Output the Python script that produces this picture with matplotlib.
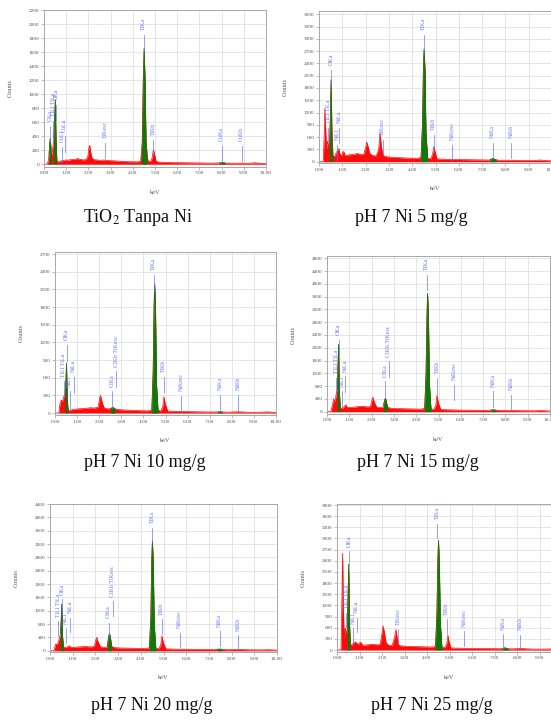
import matplotlib
matplotlib.use('Agg')
import matplotlib.pyplot as plt
from matplotlib.ticker import FixedLocator, FuncFormatter

# ---------------- DATA ----------------
captions = ["TiO$_2$ Tanpa Ni", "pH 7 Ni 5 mg/g", "pH 7 Ni 10 mg/g",
            "pH 7 Ni 15 mg/g", "pH 7 Ni 20 mg/g", "pH 7 Ni 25 mg/g"]
x_ticks = [0, 1, 2, 3, 4, 5, 6, 7, 8, 9, 10]
y_ticks_1 = list(range(0, 2201, 200))
y_ticks_2 = list(range(0, 3601, 300))
y_ticks_3 = list(range(0, 2701, 300))
y_ticks_4 = list(range(0, 4801, 400))
y_ticks_5 = list(range(0, 4401, 400))
y_ticks_6 = list(range(0, 3901, 300))

# Panel 1 : TiO2 tanpa Ni
p1_kev = [0.05,0.15,0.20,0.24,0.28,0.32,0.36,0.40,0.42,0.45,0.48,0.51,0.54,0.58,0.62,0.70,0.80,0.90,1.00,1.10,
          1.20,1.30,1.40,1.50,1.60,1.70,1.80,1.90,1.98,2.02,2.06,2.10,2.16,2.25,2.40,2.55,2.70,2.85,3.00,3.20,
          3.40,3.60,3.80,4.00,4.20,4.35,4.42,4.47,4.51,4.55,4.60,4.68,4.80,4.87,4.93,4.98,5.05,5.20,5.50,6.00,
          6.50,7.00,7.50,7.90,8.04,8.20,8.60,8.90,9.20,9.50,9.80,10.0]
p1_cnt = [0,5,60,200,370,120,150,250,280,420,650,920,350,60,30,40,50,55,60,58,
          65,70,68,80,72,66,60,70,120,230,270,180,90,65,60,55,60,55,50,48,
          42,40,36,35,34,40,300,1200,1650,1200,300,45,40,90,210,140,40,30,25,22,
          20,18,15,18,22,16,14,16,13,20,12,10]
p1_green = [([0.23,0.26,0.28,0.30,0.33], [150,300,370,300,110]),
            ([0.44,0.47,0.51,0.54,0.57], [380,600,920,350,100]),
            ([4.40,4.44,4.47,4.51,4.55,4.59,4.64], [50,400,1200,1650,1200,300,40]),
            ([7.90,7.98,8.04,8.10,8.16], [15,20,22,20,15])]
p1_labels = [("CKa",0.27,330),("TiLl TiLa",0.41,400),("OKa",0.53,630),("CuLl",0.81,30),
             ("CuLa",0.93,180),("TiKesc",2.76,85),("TiKa",4.49,1630),("TiKb",4.92,125),
             ("CuKa",8.00,40),("CuKb",8.90,40)]

# Panel 2 : 5 mg/g
p2_kev = [0.05,0.18,0.22,0.25,0.28,0.32,0.36,0.40,0.44,0.48,0.52,0.56,0.60,0.66,0.72,0.80,0.85,0.90,0.96,1.02,
          1.06,1.12,1.20,1.35,1.50,1.65,1.80,1.92,2.00,2.05,2.10,2.18,2.30,2.45,2.56,2.62,2.68,2.76,2.90,3.10,
          3.40,3.70,4.00,4.25,4.38,4.44,4.48,4.51,4.55,4.59,4.66,4.80,4.88,4.93,4.98,5.06,5.30,5.70,6.20,6.80,
          7.30,7.40,7.47,7.55,7.70,8.20,8.70,9.20,9.50,9.80,10.0]
p2_cnt = [0,10,600,1300,900,300,500,420,300,1000,2000,600,150,120,200,280,320,180,150,230,
          250,150,160,170,180,200,170,180,350,480,380,200,150,140,300,700,350,150,120,110,
          100,90,85,80,120,900,2300,2750,2200,700,90,70,200,370,250,70,60,55,50,45,
          40,60,80,55,35,35,30,28,40,25,20]
p2_green = [([0.46,0.49,0.52,0.55,0.58], [200,1200,2000,600,100]),
            ([4.38,4.44,4.48,4.51,4.55,4.59,4.66], [120,900,2300,2750,2200,700,90]),
            ([7.35,7.42,7.47,7.52,7.60], [45,70,80,65,40])]
p2_labels = [("TiLl TiLa",0.40,460),("OKa",0.53,1880),("NiLl",0.77,50),("NiLa",0.87,460),
             ("TiKesc",2.74,170),("TiKa",4.50,2735),("TiKb",4.93,290),("NiKesc",5.71,50),
             ("NiKa",7.45,90),("NiKb",8.26,90)]

# Panel 3 : 10 mg/g
p3_kev = [0.05,0.18,0.22,0.28,0.34,0.40,0.45,0.49,0.52,0.55,0.60,0.70,0.80,0.90,1.00,1.20,1.40,1.60,1.80,1.95,
          2.02,2.06,2.12,2.22,2.40,2.55,2.62,2.70,2.85,3.00,3.30,3.60,3.90,4.20,4.38,4.44,4.48,4.51,4.55,4.59,
          4.66,4.80,4.88,4.93,4.99,5.10,5.40,6.00,6.60,7.20,7.40,7.47,7.55,7.80,8.30,8.80,9.30,9.60,10.0]
p3_cnt = [0,5,150,220,200,280,350,500,850,250,40,50,60,65,70,75,80,90,85,100,
          250,300,200,90,70,80,100,75,60,55,50,45,40,38,50,700,1800,2200,1700,500,
          50,35,120,280,150,35,30,25,20,18,20,22,18,15,22,12,14,20,10]
p3_green = [([0.46,0.49,0.52,0.55,0.58], [300,550,850,250,40]),
            ([2.52,2.57,2.62,2.67,2.72], [70,90,100,85,60]),
            ([4.38,4.44,4.48,4.51,4.55,4.59,4.66], [50,700,1800,2200,1700,500,45]),
            ([7.37,7.42,7.47,7.52,7.58], [15,20,22,20,15])]
p3_labels = [("TiLl TiLa",0.40,264),("OKa",0.53,884),("NiLl",0.66,94),("NiLa",0.84,344),
             ("ClKa",2.60,94),("ClKb TiKesc",2.78,434),("TiKa",4.47,2074),("TiKb",4.91,344),
             ("NiKesc",5.72,20),("NiKa",7.48,34),("NiKb",8.28,34)]

# Panel 4 : 15 mg/g
p4_kev = [0.05,0.18,0.24,0.30,0.36,0.42,0.46,0.49,0.52,0.55,0.60,0.68,0.80,0.85,0.90,1.00,1.20,1.40,1.60,1.80,
          1.95,2.02,2.06,2.12,2.22,2.40,2.52,2.58,2.62,2.66,2.72,2.85,3.00,3.30,3.60,3.90,4.20,4.38,4.44,4.48,
          4.51,4.55,4.59,4.66,4.80,4.88,4.93,4.99,5.10,5.40,6.00,6.60,7.20,7.38,7.47,7.56,7.80,8.30,8.80,9.30,
          9.60,10.0]
p4_cnt = [0,10,200,400,300,600,700,1400,2100,700,120,100,180,220,140,130,140,160,170,150,
          160,380,450,300,150,130,150,350,420,320,140,110,100,95,90,85,80,100,1200,3000,
          3700,2900,900,90,70,200,520,280,70,60,50,45,40,55,60,50,35,35,30,28,
          35,20]
p4_green = [([0.46,0.49,0.52,0.55,0.58], [700,1400,2100,700,150]),
            ([2.54,2.58,2.62,2.66,2.70], [200,350,420,320,150]),
            ([4.38,4.44,4.48,4.51,4.55,4.59,4.66], [100,1200,3000,3700,2900,900,90]),
            ([7.37,7.42,7.47,7.52,7.58], [45,55,60,55,40])]
p4_labels = [("TiLl TiLa",0.42,567),("OKa",0.52,1767),("NiLl",0.67,147),("NiLa",0.82,617),
             ("ClKa",2.62,467),("ClKb TiKesc",2.77,1087),("TiKa",4.48,3800),("TiKb",4.93,567),
             ("NiKesc",5.71,357),("NiKa",7.46,150),("NiKb",8.27,45)]

# Panel 5 : 20 mg/g
p5_kev = [0.05,0.18,0.24,0.30,0.36,0.42,0.46,0.49,0.52,0.55,0.60,0.68,0.80,0.85,0.90,1.00,1.20,1.40,1.60,1.80,
          1.95,2.02,2.06,2.12,2.22,2.40,2.52,2.58,2.62,2.66,2.72,2.85,3.00,3.30,3.60,3.90,4.20,4.38,4.44,4.48,
          4.51,4.55,4.59,4.66,4.80,4.88,4.93,4.99,5.10,5.40,6.00,6.60,7.20,7.38,7.47,7.56,7.80,8.30,8.80,9.30,
          9.60,10.0]
p5_cnt = [0,10,200,180,250,400,500,900,1400,450,110,90,130,150,110,100,110,120,125,115,
          130,330,400,260,120,100,120,420,520,400,130,95,85,80,75,70,65,90,1000,2700,
          3300,2600,800,80,60,180,450,250,60,50,45,40,35,45,50,45,30,40,28,25,
          30,20]
p5_green = [([0.46,0.49,0.52,0.55,0.58], [500,900,1400,450,110]),
            ([2.54,2.58,2.62,2.66,2.70], [150,420,520,400,140]),
            ([4.38,4.44,4.48,4.51,4.55,4.59,4.66], [90,1000,2700,3300,2600,800,80]),
            ([7.37,7.42,7.47,7.52,7.58], [40,45,50,45,35])]
p5_labels = [("TiLl TiLa",0.37,448),("OKa",0.52,1098),("NiLl",0.69,228),("NiLa",0.88,548),
             ("ClKa",2.58,398),("ClKb TiKesc",2.77,1048),("TiKa",4.50,3250),("TiKb",4.93,498),
             ("NiKesc",5.72,98),("NiKa",7.48,148),("NiKb",8.29,30)]

# Panel 6 : 25 mg/g
p6_kev = [0.05,0.18,0.22,0.25,0.28,0.32,0.36,0.40,0.44,0.48,0.52,0.56,0.60,0.66,0.72,0.80,0.85,0.90,0.96,1.02,
          1.06,1.12,1.20,1.35,1.50,1.65,1.80,1.92,2.00,2.05,2.10,2.18,2.30,2.45,2.56,2.62,2.68,2.76,2.90,3.10,
          3.40,3.70,4.00,4.25,4.38,4.44,4.48,4.51,4.55,4.59,4.66,4.80,4.88,4.93,4.98,5.06,5.30,5.70,6.20,6.80,
          7.30,7.40,7.47,7.55,7.70,8.20,8.70,9.20,9.50,9.80,10.0]
p6_cnt = [0,10,1500,2600,1200,300,600,500,400,1200,2300,700,150,130,180,220,200,170,160,200,
          210,140,130,140,150,150,140,150,450,650,500,200,130,120,350,550,300,120,110,100,
          95,90,85,80,110,1000,2400,2950,2300,750,85,60,180,400,220,60,50,45,40,38,
          35,50,60,45,30,40,25,25,30,20,15]
p6_green = [([0.46,0.48,0.52,0.55,0.58], [350,1200,2300,700,150]),
            ([4.38,4.44,4.48,4.51,4.55,4.59,4.66], [110,1000,2400,2950,2300,750,85]),
            ([7.35,7.42,7.47,7.52,7.60], [35,50,60,45,30])]
p6_labels = [("TiLl TiLa",0.42,610),("OKa",0.54,2270),("NiLl",0.72,190),("NiLa",0.87,480),
             ("TiKesc",2.71,160),("TiKa",4.45,3000),("TiKb",4.87,430),("NiKesc",5.65,118),
             ("NiKa",7.38,28),("NiKb",8.15,20)]

# ---------------- DRAWING ----------------
W, H = 551, 721
plt.rcParams['mathtext.fontset'] = 'stix'
SERIF = 'Liberation Serif'
fig = plt.figure(figsize=(W / 100, H / 100), dpi=100)
fig.patch.set_facecolor('white')

RED = '#ff0a0a'
GREEN = '#0a7a0a'
BLUE = '#6a78ff'


def panel(box, ylim, yticks, kev, cnt, greens, labels, caption, cap_xy):
    l, r, t, b = box
    ax = fig.add_axes([l / W, 1 - b / H, (r - l) / W, (b - t) / H])
    ax.set_xlim(0, 10)
    ax.set_ylim(*ylim)
    ax.set_facecolor('white')
    ax.grid(True, color='#dcdcdc', lw=0.5, zorder=0)
    ax.set_axisbelow(True)
    ax.fill_between(kev, 0, cnt, color=RED, lw=0, zorder=2)
    ax.plot(kev, cnt, color=RED, lw=0.5, zorder=2)
    for gx, gy in greens:
        ax.fill_between(gx, 0, gy, color=GREEN, lw=0, zorder=3)
        ax.plot(gx, gy, color=GREEN, lw=0.5, zorder=3)
    ytop = ylim[1]
    for name, e, base in labels:
        ax.plot([e, e], [base, base + 0.10 * ytop], color=BLUE, lw=0.5, zorder=4)
        ax.text(e, base + 0.13 * ytop, name, rotation=90, ha='center', va='bottom',
                fontsize=4.3, color=BLUE, family=SERIF, zorder=5, clip_on=False)
    ax.xaxis.set_major_locator(FixedLocator(x_ticks))
    ax.xaxis.set_major_formatter(FuncFormatter(lambda v, p: '%.2f' % v))
    ax.yaxis.set_major_locator(FixedLocator(yticks))
    ax.yaxis.set_major_formatter(FuncFormatter(lambda v, p: '%d' % v))
    ax.tick_params(axis='both', labelsize=3.8, length=2, width=0.4, pad=1.2,
                   color='#888888', labelcolor='#555555')
    for lab in ax.get_xticklabels() + ax.get_yticklabels():
        lab.set_family(SERIF)
    for s in ax.spines.values():
        s.set_color('#a8a8a8')
        s.set_linewidth(0.7)
    ax.set_xlabel('keV', fontsize=4.5, family=SERIF, color='#555555')
    ax.set_ylabel('Counts', fontsize=4.5, family=SERIF, color='#555555')
    ax.xaxis.set_label_coords(0.5, -23 / (b - t))
    ax.yaxis.set_label_coords(-31 / (r - l), 0.5)
    fig.text(cap_xy[0] / W, 1 - cap_xy[1] / H, caption, ha='center', va='center',
             fontsize=13, family=SERIF, color='#111111')
    return ax


panel((44, 266, 10, 167), (-40, 2200), y_ticks_1, p1_kev, p1_cnt, p1_green, p1_labels,
      captions[0], (138, 218))
panel((319, 552, 10.6, 163.3), (-40, 3690), y_ticks_2, p2_kev, p2_cnt, p2_green, p2_labels,
      captions[1], (411, 218))
panel((55, 276, 251.7, 415.4), (-40, 2740), y_ticks_3, p3_kev, p3_cnt, p3_green, p3_labels,
      captions[2], (145, 462))
panel((327, 550, 256, 413.6), (-60, 4870), y_ticks_4, p4_kev, p4_cnt, p4_green, p4_labels,
      captions[3], (418, 462))
panel((50, 277, 504, 652.4), (-50, 4400), y_ticks_5, p5_kev, p5_cnt, p5_green, p5_labels,
      captions[4], (152, 705))
panel((337, 562, 504, 651.7), (-45, 3927), y_ticks_6, p6_kev, p6_cnt, p6_green, p6_labels,
      captions[5], (432, 705))

fig.savefig('out.png', dpi=100, facecolor='white')
